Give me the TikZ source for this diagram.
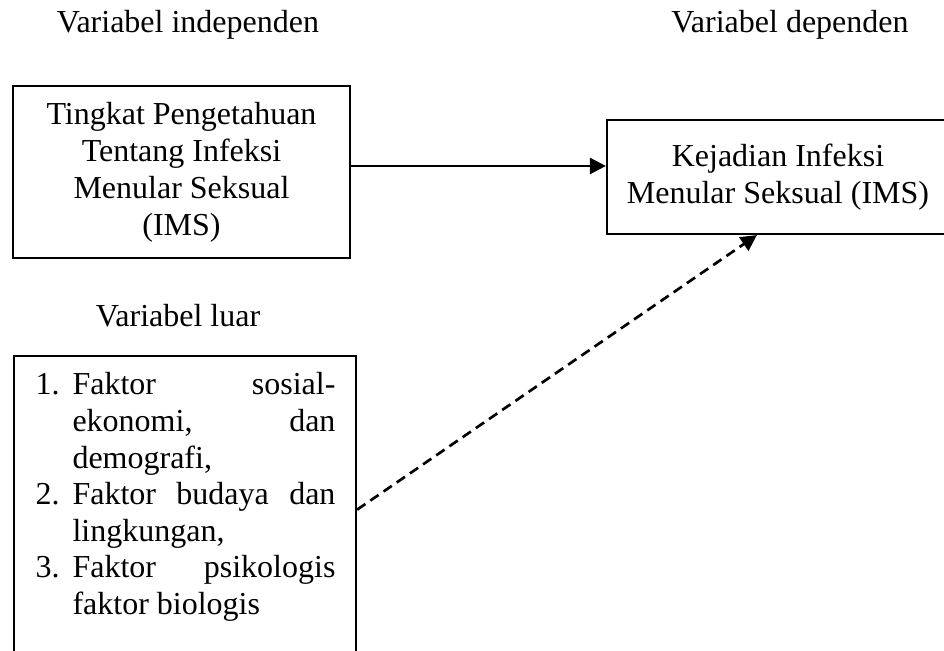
\documentclass[tikz,border=0pt]{standalone}
\usepackage{fontspec}
\setmainfont{Liberation Serif}
\usetikzlibrary{arrows.meta}

\begin{document}
\begin{tikzpicture}[x=0.375pt, y=-0.375pt, font=\fontsize{12}{13.875}\selectfont]
    \useasboundingbox (0,0) rectangle (944,651);
    \tikzset{box/.style={draw, line width=0.8pt, inner sep=0pt, align=center},
             head/.style={anchor=base, inner sep=0pt},
             tip/.style={-{Triangle[length=6pt, width=6pt]}}}
    % headings
    \node[head] (indep) at (188,33) {Variabel independen};
    \node[head] (dep) at (790,33) {Variabel dependen};
    \node[head] (extra) at (178,327) {Variabel luar};
    % boxes
    \node[box, minimum width=126.4pt, minimum height=64.5pt] (pengetahuan) at (181.5,172)
      {Tingkat Pengetahuan\\Tentang Infeksi\\Menular Seksual\\(IMS)};
    \node[box, minimum width=128.25pt, minimum height=42.75pt] (ims) at (778,177)
      {Kejadian Infeksi\\Menular Seksual (IMS)};
    \node[box, anchor=north west, minimum width=128.25pt, minimum height=122pt] (luar) at (13,355) {};
    % list of factors
    \node[anchor=base west, inner sep=0pt, align=left] (faktor) at (35,395) {%
      \fontsize{12}{13.7}\selectfont
      \begin{tabular}[t]{@{}p{13.875pt}@{}p{98.6pt}@{}}
        1. & \makebox[\linewidth][s]{Faktor sosial-}\\
           & \makebox[\linewidth][s]{ekonomi, dan}\\
           & demografi,\\
        2. & \makebox[\linewidth][s]{Faktor budaya dan}\\
           & lingkungan,\\
        3. & \makebox[\linewidth][s]{Faktor psikologis}\\
           & faktor biologis
      \end{tabular}};
    % arrows
    \draw[line width=0.9pt, tip] ([yshift=2.25pt]pengetahuan.east)
      -- ([yshift=2.25pt]pengetahuan.east -| ims.west);
    \draw[line width=1pt, dash pattern=on 3.75pt off 2.25pt, tip]
      ([yshift=-58pt]luar.north east) -- ([xshift=-7.9pt]ims.south);
  \end{tikzpicture}
\end{document}
